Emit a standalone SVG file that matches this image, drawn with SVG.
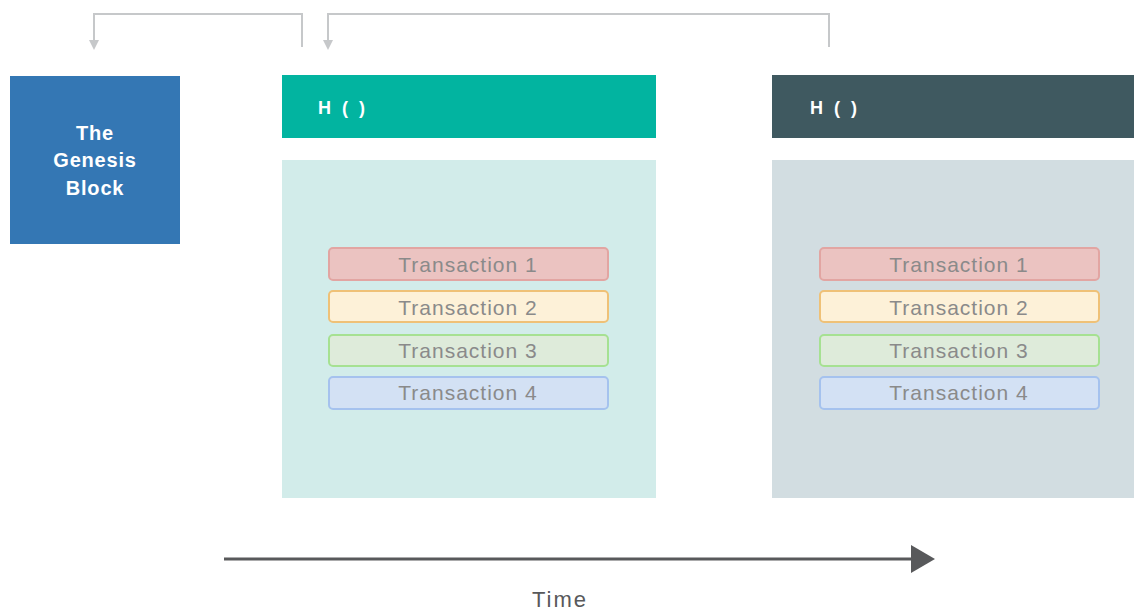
<svg xmlns="http://www.w3.org/2000/svg" width="1134" height="613" viewBox="0 0 1134 613">
<style>
.hdrtxt{font-family:"Liberation Sans",Arial,sans-serif;font-weight:bold;font-size:18px;fill:#ffffff;letter-spacing:3px}
.gen{font-family:"Liberation Sans",Arial,sans-serif;font-weight:bold;font-size:20px;fill:#ffffff;text-anchor:middle;letter-spacing:0.8px}
.tx{font-family:"Liberation Sans",Arial,sans-serif;font-size:21px;fill:#8a8a8a;text-anchor:middle;letter-spacing:1px}
.conn{fill:none;stroke:#c6c8ca;stroke-width:2}
.t1{fill:#ebc3c1;stroke:#e2a5a2;stroke-width:2}
.t2{fill:#fdf1d8;stroke:#efc177;stroke-width:2}
.t3{fill:#deebda;stroke:#a6e192;stroke-width:2}
.t4{fill:#d3e1f4;stroke:#a5c2ee;stroke-width:2}
</style>
<defs>
<marker id="ah" viewBox="0 0 10 10" refX="5" refY="5" markerWidth="10" markerHeight="10" markerUnits="userSpaceOnUse" orient="auto">
<path d="M0,0 L10,5 L0,10 z" fill="#c6c8ca"/>
</marker>
</defs>
<rect width="1134" height="613" fill="#ffffff"/>
<g id="connectors">
<path class="conn" d="M302,47 V14 H94 V45" marker-end="url(#ah)"/>
<path class="conn" d="M829,47 V14 H328 V45" marker-end="url(#ah)"/>
</g>
<g id="genesis">
<rect x="10" y="76" width="170" height="168" fill="#3477b4"/>
<text class="gen" x="95" y="140">The</text>
<text class="gen" x="95" y="167">Genesis</text>
<text class="gen" x="95" y="195">Block</text>
</g>
<g id="block1">
<rect x="282" y="75" width="374" height="63" fill="#02b4a0"/>
<text class="hdrtxt" x="318" y="114">H ( )</text>
<rect x="282" y="160" width="374" height="338" fill="#d2ecea"/>
<rect class="t1" x="329" y="248" width="279" height="32" rx="4"/>
<text class="tx" x="468" y="272">Transaction 1</text>
<rect class="t2" x="329" y="291" width="279" height="31" rx="4"/>
<text class="tx" x="468" y="315">Transaction 2</text>
<rect class="t3" x="329" y="335" width="279" height="31" rx="4"/>
<text class="tx" x="468" y="358">Transaction 3</text>
<rect class="t4" x="329" y="377" width="279" height="32" rx="4"/>
<text class="tx" x="468" y="400">Transaction 4</text>
</g>
<g id="block2">
<rect x="772" y="75" width="362" height="63" fill="#3f5960"/>
<text class="hdrtxt" x="810" y="114">H ( )</text>
<rect x="772" y="160" width="362" height="338" fill="#d2dde1"/>
<rect class="t1" x="820" y="248" width="279" height="32" rx="4"/>
<text class="tx" x="959" y="272">Transaction 1</text>
<rect class="t2" x="820" y="291" width="279" height="31" rx="4"/>
<text class="tx" x="959" y="315">Transaction 2</text>
<rect class="t3" x="820" y="335" width="279" height="31" rx="4"/>
<text class="tx" x="959" y="358">Transaction 3</text>
<rect class="t4" x="820" y="377" width="279" height="32" rx="4"/>
<text class="tx" x="959" y="400">Transaction 4</text>
</g>
<g id="time">
<line x1="224" y1="559" x2="912" y2="559" stroke="#58595b" stroke-width="3"/>
<path d="M911,545 L935,559 L911,573 z" fill="#58595b"/>
<text x="560" y="607" font-family="Liberation Sans,Arial,sans-serif" font-size="22" fill="#58595b" text-anchor="middle" letter-spacing="2">Time</text>
</g>
</svg>
